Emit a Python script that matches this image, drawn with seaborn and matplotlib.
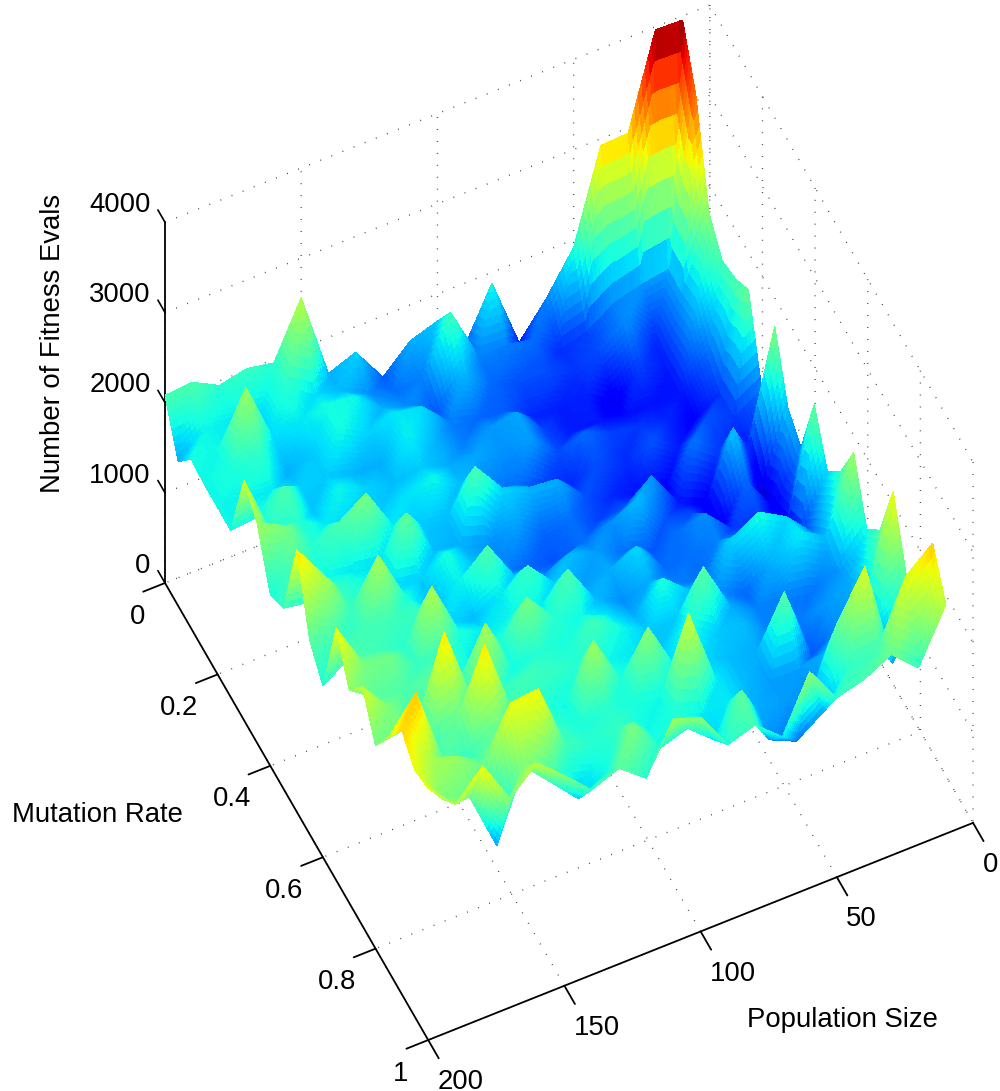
import numpy as np
import matplotlib
matplotlib.use("Agg")
import matplotlib.pyplot as plt
import seaborn as sns

population = [200,190,180,170,160,150,140,130,120,110,100,90,80,70,60,50,40,30,20,10]
mutation = [round(0.05*k,2) for k in range(21)]
evals = [
 [2080,2105,1950,2015,1960,2560,1600,1715,1320,1600,1700,1300,1880,1100,1470,1915,2925,2940,3965,3955],
 [1600,1850,1800,1750,1950,1750,1650,1500,1400,1450,2050,1460,1450,1385,1170,1250,1450,1530,1580,3380],
 [1880,1850,2437,1750,1800,1880,1850,1600,1500,1300,1640,1370,1285,1285,1200,1280,1500,1150,1570,2327],
 [1850,1900,2000,1600,1700,1880,1720,1800,1750,1450,1370,1330,1150,1110,1130,920,1230,1100,1620,2050],
 [1850,1830,1800,1720,1700,1620,1600,1830,1620,1450,1530,1580,1250,1108,1100,1060,1075,1085,1350,2100],
 [1850,1880,2100,1680,1850,1720,1650,1700,1600,1580,1510,1550,1275,1370,1240,1200,1150,1000,1200,2230],
 [2660,1950,1950,1800,1720,1700,1780,1850,1650,1450,1400,1200,1150,1290,1160,1300,1100,1300,1210,1400],
 [2440,2290,1950,2085,2290,1800,1700,1650,2100,1740,1630,1600,1300,1150,1075,1000,1420,1200,1110,2335],
 [1900,2100,1850,1800,1750,2200,1650,1600,1500,1550,1350,1400,1250,1300,1530,1100,960,1700,800,1680],
 [2000,1950,2000,1900,1750,1700,1890,1650,1450,1350,1300,1400,1500,1650,1300,1250,908,1370,940,1495],
 [2900,2500,2000,2480,1900,1640,1840,2105,1650,1500,1650,1550,1400,1300,1400,1500,1200,1250,1030,2225],
 [2150,2000,2050,2050,2000,1750,1650,1800,2015,1700,1550,1600,1750,1380,1400,1450,1400,1350,1150,1740],
 [1900,2100,2050,1950,2520,1900,1800,1850,1800,2105,1650,1500,1600,1450,1400,1730,1900,1730,1430,1985],
 [2790,2280,2240,2000,2050,1800,1900,2290,1950,1850,1750,1600,1900,1650,1500,1350,1620,1820,1640,2450],
 [2360,2150,2100,2150,1950,2500,1850,1940,1900,2050,1850,1700,1700,2160,1600,1450,1450,1410,1530,1850],
 [2650,2300,2000,2900,2050,2000,2050,2000,1950,1850,1800,1700,1900,1700,1650,1450,1430,1530,1600,2100],
 [2250,2300,2050,2190,2890,2050,1950,1850,2450,1900,2360,1800,1750,1650,1600,2150,1307,1500,1700,2780],
 [2600,2970,2100,2000,2200,2100,2000,1900,1950,1900,1850,2650,1800,1650,1550,1550,1600,1750,1800,2100],
 [2925,2500,2400,2200,2750,2790,2050,1950,2000,1850,1900,1800,1800,1600,1550,1500,2200,2700,1500,1900],
 [2735,2300,2200,1540,2300,2000,1700,1850,2300,1900,2000,1750,2180,1510,1374,1584,2000,2050,2715,2970],
 [2790,2490,2800,2320,2590,2335,2050,2170,1940,2480,2375,1950,2050,1800,2400,1990,2070,2230,1960,2540],
]
pop_ticks = [0,50,100,150,200]
mut_ticks = [0,0.2,0.4,0.6,0.8,1]
mut_labels = ['0','0.2','0.4','0.6','0.8','1']
eval_ticks = [0,1000,2000,3000,4000]

sns.set_theme(style="white")
plt.rcParams['font.family'] = ['Liberation Sans','DejaVu Sans']
W,H = 1000,1091
FS = 19.8
fig = plt.figure(figsize=(W/100,H/100),dpi=100,facecolor='white')
ax = fig.add_axes([0,0,1,1],projection='3d',proj_type='ortho',facecolor='none')
ax.view_init(elev=56.3,azim=64.4)
ax.set_box_aspect((604,609,650))

# surface: each cell is two flat triangles, subdivided so colour varies across each facet
pop = np.array(population,float); mut = np.array(mutation,float); Z = np.array(evals,float)
n = 8
fi = np.arange((len(pop)-1)*n+1)/n; fj = np.arange((len(mut)-1)*n+1)/n
i0 = np.minimum(fi.astype(int),len(pop)-2); j0 = np.minimum(fj.astype(int),len(mut)-2)
u = (fi-i0)[None,:]; v = (fj-j0)[:,None]
z00 = Z[np.ix_(j0,i0)]; z10 = Z[np.ix_(j0,i0+1)]; z01 = Z[np.ix_(j0+1,i0)]; z11 = Z[np.ix_(j0+1,i0+1)]
ZF = np.where(u+v<=1, z00+(z10-z00)*u+(z01-z00)*v, z11+(z01-z11)*(1-u)+(z10-z11)*(1-v))
X,Y = np.meshgrid(np.interp(fi,np.arange(len(pop)),pop),np.interp(fj,np.arange(len(mut)),mut))
jet = matplotlib.colormaps['jet']
ax.plot_surface(X,Y,ZF,cmap=jet,vmin=600,vmax=4000,rstride=1,cstride=1,
                linewidth=0,antialiased=False,shade=False)

# z ticks point along the mutation axis, out of the box
for t in eval_ticks:
    ax.plot([population[0]]*2,[0,-0.027],[t,t],color='black',lw=1.2)

ax.set_xlim(0,200,view_margin=0); ax.set_ylim(0,1,view_margin=0); ax.set_zlim(0,4000,view_margin=0)
ax.set_xticks(pop_ticks); ax.set_yticks(mut_ticks); ax.set_yticklabels(mut_labels); ax.set_zticks(eval_ticks)
for axis in (ax.xaxis,ax.yaxis,ax.zaxis):
    axis.set_pane_color((1,1,1,0))
    axis.pane.set_edgecolor('none')
    axis.line.set_color('black'); axis.line.set_linewidth(1.3)
    axis._axinfo['grid'].update(color='#333333',linestyle=(0,(0.6,8)),linewidth=1.0)
    axis._axinfo['tick'].update(inward_factor=0.5,outward_factor=0.0,linewidth={True:1.3,False:1.0})
ax.zaxis._axinfo['tick'].update(inward_factor=0.0,outward_factor=0.0)
ax.tick_params(labelsize=FS,colors='black',pad=6)
ax.tick_params(axis='z',pad=-1)
for t in ax.get_xticklabels(): t.set_ha('left')
for t in ax.get_yticklabels(): t.set_va('top'); t.set_ha('right')
for t in ax.get_zticklabels(): t.set_va('bottom'); t.set_ha('right')

fig.text(53/W,1-343/H,'Number of Fitness Evals',rotation=90,ha='center',va='center',fontsize=FS,color='black')
fig.text(97/W,1-815/H,'Mutation Rate',ha='center',va='center',fontsize=FS,color='black')
fig.text(842/W,1-1020/H,'Population Size',ha='center',va='center',fontsize=FS,color='black')

# fit the projected box to the picture
from mpl_toolkits.mplot3d import proj3d
fig.canvas.draw()
cA=(200,0,0); cB=(0,1,0)
tA=np.array([165,H-583.]); tB=np.array([973,H-823.])
for _ in range(4):
    M=ax.get_proj()
    P=[]
    for c in (cA,cB):
        px,py,_w=proj3d.proj_transform(*c,M)
        P.append(ax.transData.transform((px,py)))
    pA,pB=map(np.array,P)
    k=np.linalg.norm(tB-tA)/np.linalg.norm(pB-pA)
    b=ax.get_position()
    size=b.width*W*k
    ox,oy=b.x0*W,b.y0*H
    new0=tA-(pA-np.array([ox,oy]))*k
    ax.set_position([new0[0]/W,new0[1]/H,size/W,size/H])
    fig.canvas.draw()
fig.savefig('out.png',dpi=100)
